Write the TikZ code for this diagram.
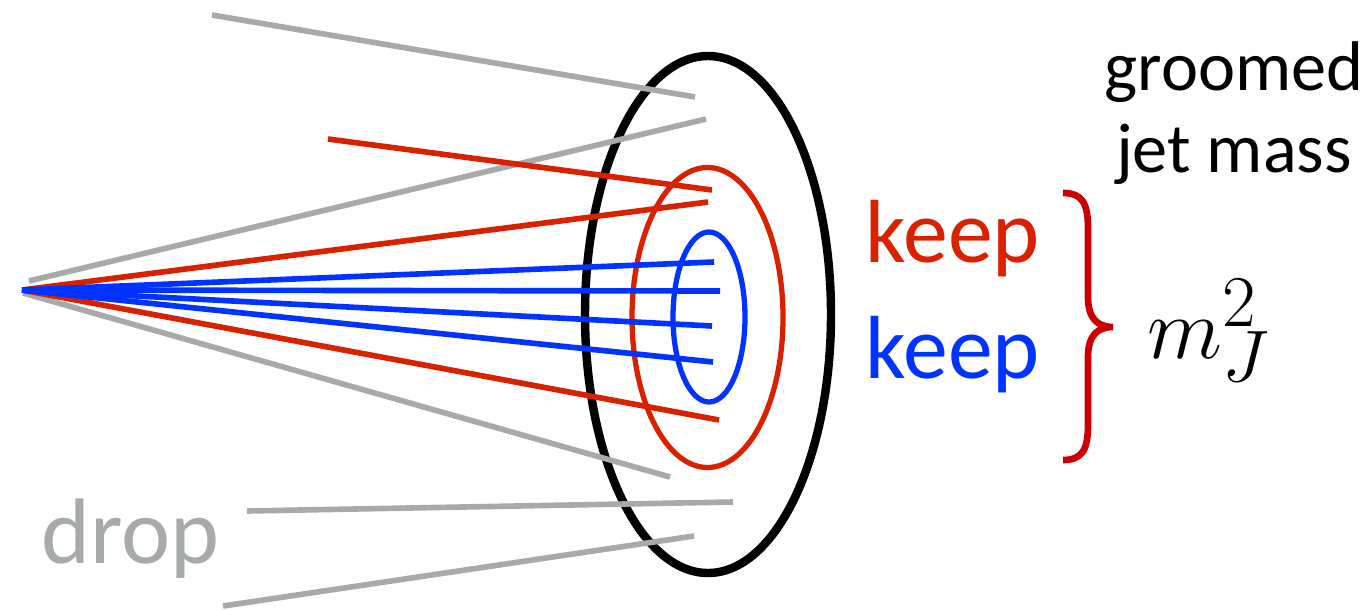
\documentclass[tikz,border=0pt]{standalone}
\usepackage[no-math]{fontspec}
\setmainfont{Carlito}

\definecolor{keepred}{RGB}{217,33,0}
\definecolor{keepblue}{RGB}{0,51,255}
\definecolor{dropgray}{RGB}{166,170,168}
\definecolor{bracered}{RGB}{204,0,0}

\begin{document}
\begin{tikzpicture}[x=0.01cm, y=-0.01cm,
  dropline/.style={draw=dropgray, line width=1.6pt},
  keepline/.style={draw=keepred, line width=1.6pt},
  coreline/.style={draw=keepblue, line width=1.6pt},
  label/.style={inner sep=0pt, anchor=base west, font=\fontsize{25.5}{30}\selectfont}]
  \useasboundingbox (0,0) rectangle (1370,609);

  % Cones around the jet axis
  \draw[line width=2.4pt] (708,314.5) ellipse [x radius=123, y radius=258.5];
  \draw[keepred, line width=1.5pt] (707.5,317.5) ellipse [x radius=75.5, y radius=150];
  \draw[keepblue, line width=1.5pt] (709,317) ellipse [x radius=36, y radius=85];

  % Jet origin and particle ends
  \coordinate (O) at (22,290);
  \coordinate (g1s) at (212,15);   \coordinate (g1e) at (695,97);
  \coordinate (g2s) at (29,281);   \coordinate (g2e) at (706,119);
  \coordinate (g3s) at (23,293);   \coordinate (g3e) at (670,477);
  \coordinate (g4s) at (247,511);  \coordinate (g4e) at (733,502);
  \coordinate (g5s) at (223,606);  \coordinate (g5e) at (694,536);
  \coordinate (r1s) at (328,139);  \coordinate (r1e) at (712,190);
  \coordinate (r2e) at (708,202);
  \coordinate (r3e) at (719,420);
  \coordinate (b1e) at (714,262);
  \coordinate (b2e) at (720,291);
  \coordinate (b3e) at (712,326);
  \coordinate (b4e) at (713,362);

  % Dropped particles
  \foreach \i in {1,...,5}
    \draw[dropline] (g\i s) -- (g\i e);

  % Kept particles
  \draw[keepline] (r1s) -- (r1e);
  \draw[keepline] (O) -- (r2e);
  \draw[keepline] (O) -- (r3e);
  \foreach \i in {1,...,4}
    \draw[coreline] (O) -- (b\i e);

  % Labels
  \node[label, keepred] (keepA) at (865,262) {keep};
  \node[label, keepblue] (keepB) at (865,378) {keep};
  \node[label, dropgray, font=\fontsize{26.5}{30}\selectfont] (drop) at (41,563) {drop};
  \node[inner sep=0pt, anchor=base, font=\fontsize{20}{24}\selectfont] (groomed) at (1234,90) {groomed};
  \node[inner sep=0pt, anchor=base, font=\fontsize{20}{24}\selectfont] (jetmass) at (1234,172) {jet mass};

  % Brace and mass
  \coordinate (bt) at (1063,193);
  \coordinate (tip) at (1113,327);
  \coordinate (bb) at (1063,460);
  \draw[bracered, line width=1.9pt] (bt) .. controls (1082,193) and (1088,203) .. (1088,228)
    -- (1088,297) .. controls (1088,318) and (1097,327) .. (tip)
    .. controls (1097,327) and (1088,336) .. (1088,357)
    -- (1088,425) .. controls (1088,450) and (1082,460) .. (bb);
  \node[inner sep=0pt, anchor=base west, font=\Huge] (mass) at (1147,358) {$m_J^2$};
\end{tikzpicture}
\end{document}
